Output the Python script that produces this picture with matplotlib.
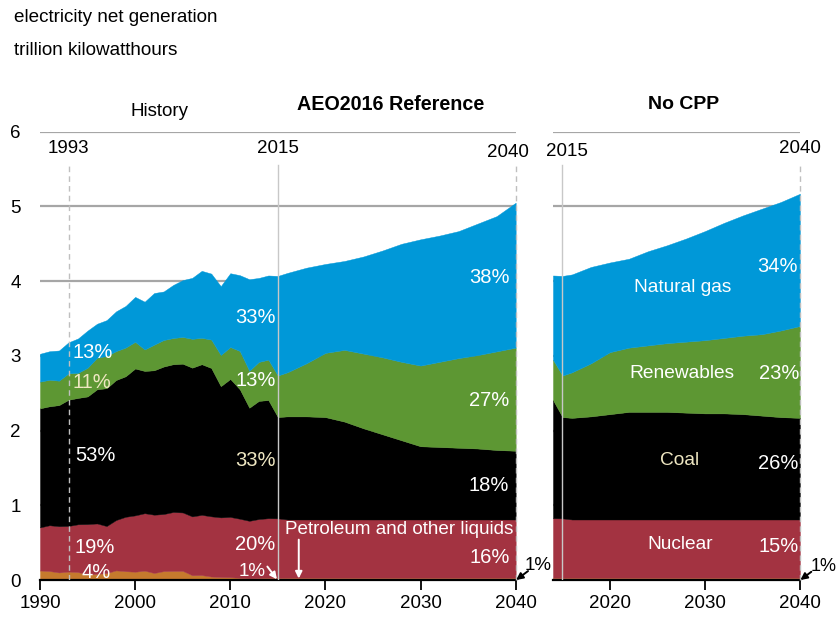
import matplotlib
matplotlib.use("Agg")
import matplotlib.pyplot as plt
import numpy as np

plt.rcParams['font.family'] = ['Liberation Sans', 'DejaVu Sans']

# history 1990-2015, trillion kWh
hist_years = list(range(1990, 2016))
hist_petro = [0.127, 0.120, 0.101, 0.113, 0.106, 0.075, 0.082, 0.093, 0.129, 0.118,
              0.111, 0.125, 0.094, 0.119, 0.121, 0.122, 0.064, 0.066, 0.046, 0.039,
              0.037, 0.030, 0.023, 0.027, 0.030, 0.028]
hist_nuclear = [0.577, 0.613, 0.619, 0.610, 0.640, 0.673, 0.675, 0.629, 0.674, 0.728,
                0.754, 0.769, 0.780, 0.764, 0.789, 0.782, 0.787, 0.806, 0.806, 0.799,
                0.807, 0.790, 0.769, 0.789, 0.797, 0.797]
hist_coal = [1.594, 1.592, 1.621, 1.690, 1.691, 1.709, 1.796, 1.845, 1.874, 1.881,
             1.966, 1.904, 1.933, 1.974, 1.978, 1.991, 1.991, 2.016, 1.986, 1.756,
             1.847, 1.733, 1.514, 1.581, 1.582, 1.356]
hist_renew = [0.357, 0.355, 0.327, 0.353, 0.336, 0.384, 0.422, 0.432, 0.387, 0.384,
              0.357, 0.288, 0.343, 0.355, 0.351, 0.358, 0.386, 0.353, 0.380, 0.418,
              0.427, 0.513, 0.494, 0.522, 0.540, 0.556]
hist_gas = [0.373, 0.382, 0.404, 0.415, 0.460, 0.497, 0.455, 0.479, 0.532, 0.557,
            0.601, 0.639, 0.691, 0.650, 0.710, 0.761, 0.816, 0.897, 0.883, 0.921,
            0.988, 1.014, 1.226, 1.124, 1.127, 1.333]

# projections, 2016-2040
proj_years = [2016, 2018, 2020, 2022, 2024, 2026, 2028, 2030, 2032, 2034, 2036, 2038, 2040]

# AEO2016 Reference
ref_petro = [0.03] * 13
ref_nuclear = [0.78] * 13
ref_coal = [1.38, 1.38, 1.37, 1.31, 1.22, 1.14, 1.06, 0.98, 0.97, 0.96, 0.95, 0.93, 0.92]
ref_renew = [0.59, 0.71, 0.86, 0.96, 1.00, 1.03, 1.05, 1.08, 1.14, 1.20, 1.25, 1.32, 1.38]
ref_gas = [1.33, 1.28, 1.19, 1.19, 1.30, 1.43, 1.58, 1.69, 1.69, 1.70, 1.76, 1.81, 1.94]

# No CPP
nocpp_petro = [0.03] * 13
nocpp_nuclear = [0.78] * 13
nocpp_coal = [1.36, 1.38, 1.41, 1.44, 1.44, 1.44, 1.43, 1.42, 1.42, 1.41, 1.39, 1.37, 1.36]
nocpp_renew = [0.61, 0.71, 0.83, 0.86, 0.89, 0.92, 0.95, 0.98, 1.01, 1.05, 1.09, 1.16, 1.23]
nocpp_gas = [1.31, 1.29, 1.20, 1.19, 1.26, 1.31, 1.38, 1.46, 1.54, 1.61, 1.68, 1.72, 1.77]

colors = ['#C57A2D', '#A33341', '#000000', '#5D9733', '#0098D8']
BEIGE = '#EFE7C2'
GRID = '#A6A6A6'
TICK_FS = 13.5
PCT_FS = 14.5
WORD_FS = 13.8

fig = plt.figure(figsize=(8.4, 6.19), dpi=100)
ax1 = fig.add_axes([0.0476, 0.063, 0.5663, 0.7242])
ax2 = fig.add_axes([0.6583, 0.063, 0.294, 0.7242])

# left panel: history + reference
x1 = hist_years + proj_years
ax1.stackplot(x1,
              hist_petro + ref_petro, hist_nuclear + ref_nuclear, hist_coal + ref_coal,
              hist_renew + ref_renew, hist_gas + ref_gas,
              colors=colors, edgecolor='face', linewidth=0.3, zorder=2)

# right panel: 2014 onward, no CPP
x2 = [2014, 2015] + proj_years
ax2.stackplot(x2,
              hist_petro[-2:] + nocpp_petro, hist_nuclear[-2:] + nocpp_nuclear,
              hist_coal[-2:] + nocpp_coal, hist_renew[-2:] + nocpp_renew,
              hist_gas[-2:] + nocpp_gas,
              colors=colors, edgecolor='face', linewidth=0.3, zorder=2)

for ax in (ax1, ax2):
    ax.set_ylim(0, 6)
    ax.set_yticks(range(7))
    ax.yaxis.grid(True, color=GRID, lw=1.6)
    ax.set_axisbelow(True)
    for s in ('left', 'right', 'top'):
        ax.spines[s].set_visible(False)
    ax.spines['bottom'].set_linewidth(1.6)
    ax.tick_params(axis='x', direction='out', length=7, width=1.3, labelsize=TICK_FS, pad=4)
    ax.tick_params(axis='y', length=0, labelsize=TICK_FS, pad=14)

ax1.set_xlim(1990, 2040)
ax1.set_xticks([1990, 2000, 2010, 2020, 2030, 2040])
ax2.set_xlim(2014, 2040)
ax2.set_xticks([2020, 2030, 2040])
ax2.set_yticklabels([])

# marker lines
ax1.plot([1993, 1993], [0, 5.55], color='#BFBFBF', lw=1, ls=(0, (4, 3)), zorder=3)
ax1.plot([2015, 2015], [0, 5.55], color='#C8C8C8', lw=1, zorder=3)
ax1.plot([2040, 2040], [0, 5.55], color='#BFBFBF', lw=1, ls=(0, (4, 3)), zorder=3, clip_on=False)
ax2.plot([2015, 2015], [0, 5.55], color='#C8C8C8', lw=1, zorder=3)
ax2.plot([2040, 2040], [0, 5.55], color='#BFBFBF', lw=1, ls=(0, (4, 3)), zorder=3, clip_on=False)

ax1.text(1993, 5.78, '1993', ha='center', va='center', fontsize=TICK_FS)
ax1.text(2015, 5.78, '2015', ha='center', va='center', fontsize=TICK_FS)
ax1.text(2039.2, 5.72, '2040', ha='center', va='center', fontsize=TICK_FS)
ax2.text(2015.5, 5.74, '2015', ha='center', va='center', fontsize=TICK_FS)
ax2.text(2040, 5.78, '2040', ha='center', va='center', fontsize=TICK_FS)

ax1.text(2002.6, 6.27, 'History', ha='center', va='center', fontsize=13.5)
ax1.text(2026.9, 6.37, 'AEO2016 Reference', ha='center', va='center', fontsize=14.2,
         fontweight='bold')
ax2.text(2027.7, 6.37, 'No CPP', ha='center', va='center', fontsize=14, fontweight='bold')

fig.text(0.017, 0.971, 'electricity net generation', ha='left', va='center', fontsize=13.6)
fig.text(0.017, 0.918, 'trillion kilowatthours', ha='left', va='center', fontsize=13.6)

# percent labels, left panel
pct = dict(ha='center', va='center', fontsize=PCT_FS)
ax1.text(1995.5, 3.05, '13%', color='white', **pct)
ax1.text(1995.5, 2.65, '11%', color=BEIGE, **pct)
ax1.text(1995.8, 1.67, '53%', color='white', **pct)
ax1.text(1995.7, 0.44, '19%', color='white', **pct)
ax1.text(1995.9, 0.10, '4%', color='white', **pct)
ax1.text(2012.7, 3.52, '33%', color='white', **pct)
ax1.text(2012.7, 2.67, '13%', color='white', **pct)
ax1.text(2012.7, 1.60, '33%', color=BEIGE, **pct)
ax1.text(2012.6, 0.47, '20%', color='white', **pct)
ax1.text(2037.2, 4.05, '38%', color='white', **pct)
ax1.text(2037.2, 2.40, '27%', color='white', **pct)
ax1.text(2037.2, 1.27, '18%', color='white', **pct)
ax1.text(2037.3, 0.30, '16%', color='white', **pct)

arrow_w = dict(arrowstyle='-|>', color='white', lw=1.4, shrinkA=0, shrinkB=0,
               mutation_scale=10)
arrow_k = dict(arrowstyle='-|>', color='black', lw=1.4, shrinkA=0, shrinkB=0,
               mutation_scale=10)

ax1.text(2012.3, 0.12, '1%', color='white', ha='center', va='center', fontsize=13.5)
ax1.annotate('', xy=(2014.9, 0.01), xytext=(2013.9, 0.18), arrowprops=arrow_w)

ax1.text(2015.8, 0.67, 'Petroleum and other liquids', color='white', ha='left',
         va='center', fontsize=13.6)
ax1.annotate('', xy=(2017.2, 0.02), xytext=(2017.2, 0.54), arrowprops=arrow_w)

ax1.text(2040.9, 0.19, '1%', color='black', ha='left', va='center', fontsize=13.5)
ax1.annotate('', xy=(2040.05, 0.0), xytext=(2041.3, 0.12), arrowprops=arrow_k,
             annotation_clip=False)

# right panel labels
word = dict(ha='center', va='center', fontsize=WORD_FS)
ax2.text(2027.7, 3.92, 'Natural gas', color='white', **word)
ax2.text(2037.6, 4.19, '34%', color='white', **pct)
ax2.text(2027.6, 2.77, 'Renewables', color='white', **word)
ax2.text(2037.8, 2.77, '23%', color='white', **pct)
ax2.text(2027.3, 1.60, 'Coal', color=BEIGE, **word)
ax2.text(2037.7, 1.56, '26%', color='white', **pct)
ax2.text(2027.4, 0.48, 'Nuclear', color='white', **word)
ax2.text(2037.8, 0.45, '15%', color='white', **pct)

ax2.text(2041.1, 0.18, '1%', color='black', ha='left', va='center', fontsize=13)
ax2.annotate('', xy=(2040.05, 0.0), xytext=(2041.2, 0.11), arrowprops=arrow_k,
             annotation_clip=False)

fig.savefig('out.png', dpi=100)
